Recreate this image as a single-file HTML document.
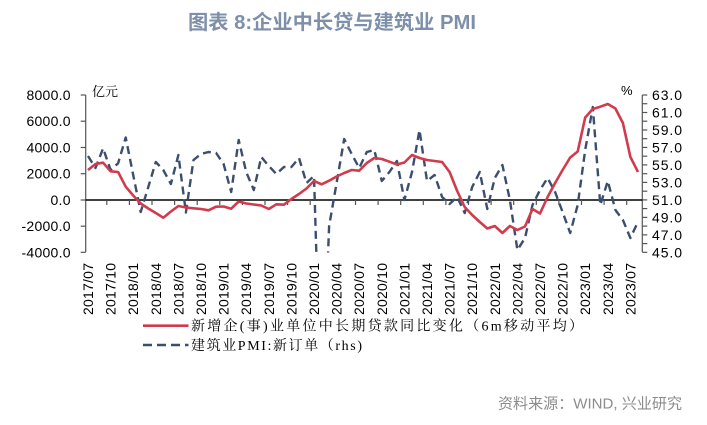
<!DOCTYPE html>
<html>
<head>
<meta charset="utf-8">
<style>
  html,body{margin:0;padding:0;background:#fff;}
  svg{display:block;}
</style>
</head>
<body>
<svg width="707" height="425" viewBox="0 0 707 425" xmlns="http://www.w3.org/2000/svg">
  <rect x="0" y="0" width="707" height="425" fill="#fff"/>
  <defs>
    <clipPath id="plot"><rect x="86" y="90" width="556.5" height="162.5"/></clipPath>
  </defs>

  <!-- Title -->
  <text x="332" y="29" text-anchor="middle" font-family="'Liberation Sans','Noto Sans CJK SC',sans-serif" font-weight="bold" font-size="20" fill="#7d8fa9" textLength="288" lengthAdjust="spacingAndGlyphs">图表 8:企业中长贷与建筑业 PMI</text>

  <!-- Unit labels -->
  <text x="92" y="96" font-family="'Liberation Serif','Noto Serif CJK SC',serif" font-size="13" fill="#000">亿元</text>
  <text x="621" y="95" font-family="'Liberation Sans',sans-serif" font-size="13" fill="#000">%</text>

  <!-- Left axis -->
  <g stroke="#555" stroke-width="1.2" fill="none">
    <line x1="85.7" y1="95" x2="85.7" y2="252.3"/>
    <line x1="80.7" y1="95" x2="85.7" y2="95"/>
    <line x1="80.7" y1="121.2" x2="85.7" y2="121.2"/>
    <line x1="80.7" y1="147.5" x2="85.7" y2="147.5"/>
    <line x1="80.7" y1="173.7" x2="85.7" y2="173.7"/>
    <line x1="80.7" y1="200" x2="85.7" y2="200"/>
    <line x1="80.7" y1="226.2" x2="85.7" y2="226.2"/>
    <line x1="80.7" y1="252.3" x2="85.7" y2="252.3"/>
  </g>
  <g font-family="'Liberation Sans',sans-serif" font-size="14" fill="#000" text-anchor="end" lengthAdjust="spacingAndGlyphs">
    <text x="70.5" y="100" textLength="44">8000.0</text>
    <text x="70.5" y="126.2" textLength="44">6000.0</text>
    <text x="70.5" y="152.5" textLength="44">4000.0</text>
    <text x="70.5" y="178.7" textLength="44">2000.0</text>
    <text x="70.5" y="205" textLength="20">0.0</text>
    <text x="70.5" y="231.2" textLength="49">-2000.0</text>
    <text x="70.5" y="257.3" textLength="49">-4000.0</text>
  </g>

  <!-- Right axis -->
  <g stroke="#555" stroke-width="1.2" fill="none">
    <line x1="642.3" y1="95" x2="642.3" y2="252.3"/>
    <line x1="642.3" y1="95" x2="647.3" y2="95"/>
    <line x1="642.3" y1="103.7" x2="647.3" y2="103.7"/>
    <line x1="642.3" y1="112.5" x2="647.3" y2="112.5"/>
    <line x1="642.3" y1="121.2" x2="647.3" y2="121.2"/>
    <line x1="642.3" y1="130" x2="647.3" y2="130"/>
    <line x1="642.3" y1="138.7" x2="647.3" y2="138.7"/>
    <line x1="642.3" y1="147.4" x2="647.3" y2="147.4"/>
    <line x1="642.3" y1="156.2" x2="647.3" y2="156.2"/>
    <line x1="642.3" y1="164.9" x2="647.3" y2="164.9"/>
    <line x1="642.3" y1="173.7" x2="647.3" y2="173.7"/>
    <line x1="642.3" y1="182.4" x2="647.3" y2="182.4"/>
    <line x1="642.3" y1="191.2" x2="647.3" y2="191.2"/>
    <line x1="642.3" y1="199.9" x2="647.3" y2="199.9"/>
    <line x1="642.3" y1="208.6" x2="647.3" y2="208.6"/>
    <line x1="642.3" y1="217.4" x2="647.3" y2="217.4"/>
    <line x1="642.3" y1="226.1" x2="647.3" y2="226.1"/>
    <line x1="642.3" y1="234.9" x2="647.3" y2="234.9"/>
    <line x1="642.3" y1="243.6" x2="647.3" y2="243.6"/>
    <line x1="642.3" y1="252.3" x2="647.3" y2="252.3"/>
  </g>
  <g font-family="'Liberation Sans',sans-serif" font-size="14" fill="#000" lengthAdjust="spacingAndGlyphs">
    <text x="652" y="100" textLength="30">63.0</text>
    <text x="652" y="117.5" textLength="30">61.0</text>
    <text x="652" y="135" textLength="30">59.0</text>
    <text x="652" y="152.4" textLength="30">57.0</text>
    <text x="652" y="169.9" textLength="30">55.0</text>
    <text x="652" y="187.4" textLength="30">53.0</text>
    <text x="652" y="204.9" textLength="30">51.0</text>
    <text x="652" y="222.4" textLength="30">49.0</text>
    <text x="652" y="239.9" textLength="30">47.0</text>
    <text x="652" y="257.3" textLength="30">45.0</text>
  </g>

  <!-- Zero line / category axis -->
  <line x1="85.7" y1="200" x2="642.3" y2="200" stroke="#000" stroke-width="1.4"/>
  <g stroke="#555" stroke-width="1.2">
    <line x1="106.8" y1="200" x2="106.8" y2="205"/>
    <line x1="129.4" y1="200" x2="129.4" y2="205"/>
    <line x1="152.0" y1="200" x2="152.0" y2="205"/>
    <line x1="174.6" y1="200" x2="174.6" y2="205"/>
    <line x1="197.2" y1="200" x2="197.2" y2="205"/>
    <line x1="219.8" y1="200" x2="219.8" y2="205"/>
    <line x1="242.4" y1="200" x2="242.4" y2="205"/>
    <line x1="265.0" y1="200" x2="265.0" y2="205"/>
    <line x1="287.6" y1="200" x2="287.6" y2="205"/>
    <line x1="310.2" y1="200" x2="310.2" y2="205"/>
    <line x1="332.9" y1="200" x2="332.9" y2="205"/>
    <line x1="355.5" y1="200" x2="355.5" y2="205"/>
    <line x1="378.1" y1="200" x2="378.1" y2="205"/>
    <line x1="400.7" y1="200" x2="400.7" y2="205"/>
    <line x1="423.3" y1="200" x2="423.3" y2="205"/>
    <line x1="445.9" y1="200" x2="445.9" y2="205"/>
    <line x1="468.5" y1="200" x2="468.5" y2="205"/>
    <line x1="491.1" y1="200" x2="491.1" y2="205"/>
    <line x1="513.7" y1="200" x2="513.7" y2="205"/>
    <line x1="536.3" y1="200" x2="536.3" y2="205"/>
    <line x1="558.9" y1="200" x2="558.9" y2="205"/>
    <line x1="581.5" y1="200" x2="581.5" y2="205"/>
    <line x1="604.1" y1="200" x2="604.1" y2="205"/>
    <line x1="626.7" y1="200" x2="626.7" y2="205"/>
  </g>

  <!-- X labels -->
  <g font-family="'Liberation Sans',sans-serif" font-size="14" fill="#000" lengthAdjust="spacingAndGlyphs">
    <text transform="translate(93,315) rotate(-90)" textLength="52">2017/07</text>
    <text transform="translate(115.6,315) rotate(-90)" textLength="52">2017/10</text>
    <text transform="translate(138.1,315) rotate(-90)" textLength="52">2018/01</text>
    <text transform="translate(160.8,315) rotate(-90)" textLength="52">2018/04</text>
    <text transform="translate(183.4,315) rotate(-90)" textLength="52">2018/07</text>
    <text transform="translate(206,315) rotate(-90)" textLength="52">2018/10</text>
    <text transform="translate(228.6,315) rotate(-90)" textLength="52">2019/01</text>
    <text transform="translate(251.2,315) rotate(-90)" textLength="52">2019/04</text>
    <text transform="translate(273.8,315) rotate(-90)" textLength="52">2019/07</text>
    <text transform="translate(296.4,315) rotate(-90)" textLength="52">2019/10</text>
    <text transform="translate(319,315) rotate(-90)" textLength="52">2020/01</text>
    <text transform="translate(341.6,315) rotate(-90)" textLength="52">2020/04</text>
    <text transform="translate(364.2,315) rotate(-90)" textLength="52">2020/07</text>
    <text transform="translate(386.8,315) rotate(-90)" textLength="52">2020/10</text>
    <text transform="translate(409.4,315) rotate(-90)" textLength="52">2021/01</text>
    <text transform="translate(432,315) rotate(-90)" textLength="52">2021/04</text>
    <text transform="translate(454.6,315) rotate(-90)" textLength="52">2021/07</text>
    <text transform="translate(477.2,315) rotate(-90)" textLength="52">2021/10</text>
    <text transform="translate(499.8,315) rotate(-90)" textLength="52">2022/01</text>
    <text transform="translate(522.4,315) rotate(-90)" textLength="52">2022/04</text>
    <text transform="translate(545,315) rotate(-90)" textLength="52">2022/07</text>
    <text transform="translate(567.6,315) rotate(-90)" textLength="52">2022/10</text>
    <text transform="translate(590.2,315) rotate(-90)" textLength="52">2023/01</text>
    <text transform="translate(612.8,315) rotate(-90)" textLength="52">2023/04</text>
    <text transform="translate(635.4,315) rotate(-90)" textLength="52">2023/07</text>
  </g>

  <!-- Series -->
  <g clip-path="url(#plot)" fill="none" stroke-linejoin="round">
    <polyline stroke="#3b4e6e" stroke-width="2.4" stroke-dasharray="8 5" points="88,156 95.5,168 103.1,148.3 110.6,170 118.1,163.3 125.7,137.5 133.2,175 140.7,212 148.3,187 155.8,162 163.3,170 170.9,184 178.4,155 185.9,212.5 193.5,160 201,154 208.5,152 216.1,153 223.6,164 231.2,192 238.7,140 246.2,172 253.8,190 261.3,157 268.8,166 276.4,174 283.9,167 291.4,167 299,158 306.5,183 314,176 321.6,427 329.1,226 336.6,183 344.2,139 351.7,154 359.2,168 366.8,152 374.3,150 381.8,181 389.4,172 396.9,161 404.4,200 412,172 419.5,130 427,181 434.6,175 442.1,197 449.6,204 457.2,197 464.7,213 472.2,187 479.8,172 487.3,209 494.8,178 502.4,165 509.9,200 517.4,250 525,238 532.5,205 540,190 547.6,178 555.1,192 562.6,212 570.2,233 577.7,205 585.2,150 592.8,107 600.3,205 607.8,181 615.4,210 622.9,220 630.4,238 636.5,225"/>
    <polyline stroke="#d13b4d" stroke-width="2.6" points="88,170 95.5,164 103.1,162.7 110.6,171.3 118.1,172 125.7,186.7 133.2,195.5 140.7,203.5 148.3,208.5 155.8,213 163.3,217.7 170.9,211.5 178.4,206 185.9,207.5 193.5,208.3 201,209 208.5,210.3 216.1,206.7 223.6,206.5 231.2,208.7 238.7,201.5 246.2,203.5 253.8,204.5 261.3,205.5 268.8,209 276.4,204.3 283.9,204.7 291.4,199 299,194 306.5,188.5 314,181 321.6,184.3 329.1,180.7 336.6,176.5 344.2,173 351.7,170 359.2,170.7 366.8,163 374.3,158 381.8,159 389.4,161.7 396.9,164.5 404.4,162.5 412,155 419.5,158 427,160 434.6,161 442.1,162 449.6,172 457.2,191 464.7,207 472.2,215 479.8,222 487.3,228.5 494.8,226 502.4,233 509.9,226 517.4,230 525,226.5 532.5,209 540,213.5 547.6,197 555.1,183 562.6,170 570.2,157.5 577.7,151.5 585.2,117.5 592.8,109 600.3,106.7 607.8,104 615.4,108.5 622.9,123 630.4,157 638,172"/>
  </g>

  <!-- Legend -->
  <line x1="143" y1="325.7" x2="188.5" y2="325.7" stroke="#d13b4d" stroke-width="2.6"/>
  <line x1="143" y1="345" x2="188.5" y2="345" stroke="#3b4e6e" stroke-width="2.4" stroke-dasharray="9 5"/>
  <g font-family="'Liberation Serif','Noto Serif CJK SC',serif" font-size="14" fill="#000" lengthAdjust="spacingAndGlyphs">
    <text x="191" y="330.5" textLength="392">新增企(事)业单位中长期贷款同比变化（6m移动平均）</text>
    <text x="191" y="350" textLength="171">建筑业PMI:新订单（rhs)</text>
  </g>

  <!-- Source -->
  <text x="682" y="408.5" text-anchor="end" font-family="'Liberation Sans','Noto Sans CJK SC',sans-serif" font-size="15" fill="#8c8c8c" textLength="184" lengthAdjust="spacingAndGlyphs">资料来源：WIND, 兴业研究</text>
</svg>
</body>
</html>
